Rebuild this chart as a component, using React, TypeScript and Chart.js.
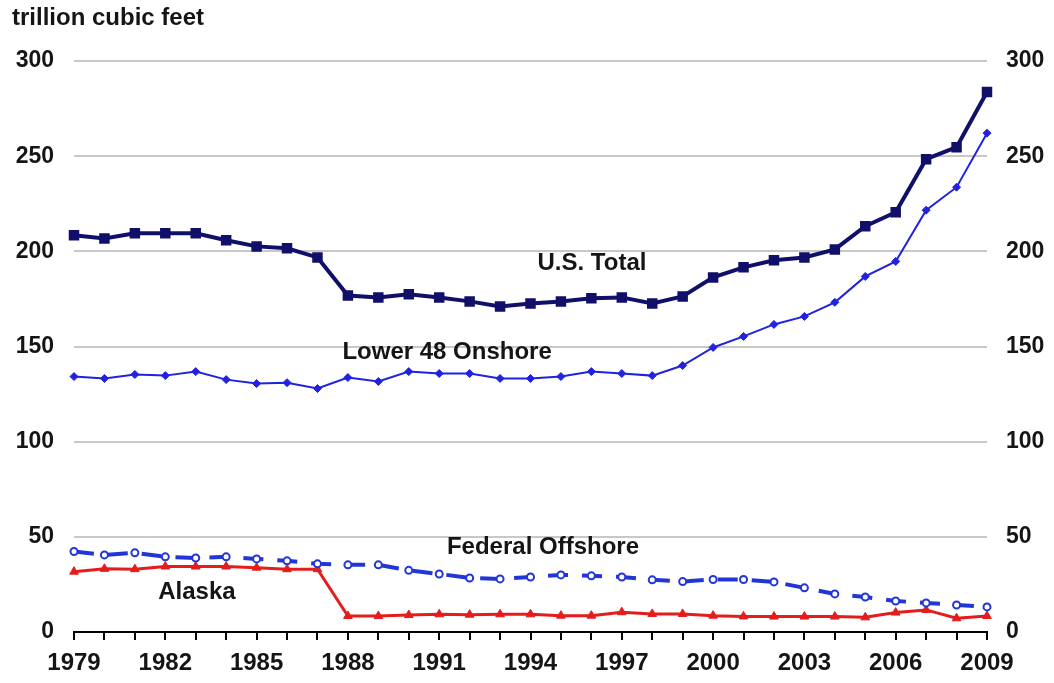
import React, { useEffect, useRef } from "react";
import { Chart, registerables } from "chart.js";

Chart.register(...registerables);

const years: number[] = [
  1979, 1980, 1981, 1982, 1983, 1984, 1985, 1986, 1987, 1988, 1989, 1990, 1991, 1992, 1993,
  1994, 1995, 1996, 1997, 1998, 1999, 2000, 2001, 2002, 2003, 2004, 2005, 2006, 2007, 2008, 2009,
];

const usTotal: number[] = [
  208.4, 206.8, 209.5, 209.5, 209.5, 205.8, 202.6, 201.6, 196.8, 176.8, 175.8, 177.4, 175.8,
  173.7, 171.0, 172.6, 173.7, 175.3, 175.8, 172.6, 176.3, 186.3, 191.6, 195.3, 196.8, 201.0,
  213.2, 220.5, 248.4, 254.7, 283.7,
];

const lower48Onshore: number[] = [
  134.2, 133.2, 135.3, 134.7, 136.8, 132.6, 130.5, 131.0, 127.9, 133.7, 131.6, 136.8, 135.8,
  135.8, 133.2, 133.2, 134.2, 136.8, 135.8, 134.7, 140.0, 149.5, 155.3, 161.6, 165.8, 173.2,
  186.8, 194.7, 221.6, 233.7, 262.1,
];

const federalOffshore: number[] = [
  42.3, 40.5, 41.6, 39.5, 38.9, 39.5, 38.4, 37.4, 35.8, 35.3, 35.3, 32.4, 30.5, 28.4, 27.9,
  28.9, 30.0, 29.5, 28.9, 27.4, 26.5, 27.6, 27.6, 26.3, 23.2, 20.0, 18.4, 16.3, 15.3, 14.2,
  13.2,
];

const alaska: number[] = [
  31.7, 33.2, 33.0, 34.4, 34.4, 34.4, 33.8, 33.0, 33.0, 8.4, 8.4, 8.9, 9.3, 9.1, 9.3, 9.3, 8.6,
  8.6, 10.4, 9.5, 9.5, 8.6, 8.2, 8.1, 8.1, 8.1, 7.7, 10.2, 11.6, 7.2, 8.4,
];

const yTicks: number[] = [0, 50, 100, 150, 200, 250, 300];
const xLabelStep = 3;

const unitLabel = "trillion cubic feet";
const seriesLabels = [
  { text: "U.S. Total", x: 1996.02, y: 193.9 },
  { text: "Lower 48 Onshore", x: 1991.26, y: 147.1 },
  { text: "Federal Offshore", x: 1994.41, y: 44.7 },
  { text: "Alaska", x: 1983.04, y: 21.0 },
];

const FONT = "'Liberation Sans', Arial, sans-serif";
const TEXT = "#151515";

export default function App() {
  const ref = useRef<HTMLCanvasElement | null>(null);

  useEffect(() => {
    document.body.style.margin = "0";
    const canvas = ref.current;
    if (!canvas) return;

    const toPts = (arr: number[]) => arr.map((v, i) => ({ x: years[i], y: v }));

    const labelPlugin = {
      id: "seriesLabels",
      afterDatasetsDraw(chart: any) {
        const { ctx, scales } = chart;
        ctx.save();
        ctx.fillStyle = TEXT;
        ctx.font = `bold 24px ${FONT}`;
        ctx.textAlign = "center";
        ctx.textBaseline = "middle";
        for (const l of seriesLabels) {
          ctx.fillText(l.text, scales.x.getPixelForValue(l.x), scales.y.getPixelForValue(l.y));
        }
        ctx.restore();
      },
    };

    const chart = new Chart(canvas, {
      type: "line",
      data: {
        datasets: [
          {
            label: "U.S. Total",
            data: toPts(usTotal),
            borderColor: "#10106a",
            backgroundColor: "#10106a",
            borderWidth: 4,
            pointStyle: "rect",
            pointRadius: 6,
            pointBorderWidth: 2,
            clip: false,
            order: 1,
          } as any,
          {
            label: "Lower 48 Onshore",
            data: toPts(lower48Onshore),
            borderColor: "#2121e0",
            backgroundColor: "#2121e0",
            borderWidth: 2,
            pointStyle: "rectRot",
            pointRadius: 4,
            pointBorderWidth: 1,
            clip: false,
            order: 2,
          } as any,
          {
            label: "Federal Offshore",
            data: toPts(federalOffshore),
            borderColor: "#2236d8",
            backgroundColor: "#ffffff",
            pointBorderColor: "#2236d8",
            borderWidth: 4,
            borderDash: [20, 14],
            pointStyle: "circle",
            pointRadius: 3.5,
            pointBorderWidth: 2,
            clip: false,
            order: 3,
          } as any,
          {
            label: "Alaska",
            data: toPts(alaska),
            borderColor: "#e41c1c",
            backgroundColor: "#e41c1c",
            borderWidth: 3,
            pointStyle: "triangle",
            pointRadius: 5,
            pointBorderWidth: 1,
            clip: false,
            order: 4,
          } as any,
        ],
      },
      options: {
        animation: false,
        responsive: false,
        maintainAspectRatio: false,
        devicePixelRatio: 1,
        layout: { padding: { left: 12, right: 0, top: 0, bottom: 0 } },
        plugins: {
          legend: { display: false },
          tooltip: { enabled: false },
          title: {
            display: true,
            text: unitLabel,
            align: "start",
            color: TEXT,
            font: { family: FONT, size: 24, weight: "bold" },
            padding: { top: 4, bottom: 28.2 },
          },
        },
        scales: {
          x: {
            type: "linear",
            min: years[0],
            max: years[years.length - 1],
            afterFit: (axis: any) => {
              axis.height = 51;
            },
            afterBuildTicks: (axis: any) => {
              axis.ticks = years.map((v) => ({ value: v }));
            },
            ticks: {
              autoSkip: false,
              maxRotation: 0,
              padding: 9,
              color: TEXT,
              font: { family: FONT, size: 24, weight: "bold" },
              callback: (v: any) => ((Number(v) - years[0]) % xLabelStep === 0 ? String(v) : ""),
            },
            grid: {
              drawOnChartArea: false,
              drawTicks: true,
              tickLength: 8,
              color: "#000000",
              lineWidth: 2,
            },
            border: { display: true, color: "#000000", width: 2 },
          },
          y: {
            position: "left",
            min: 0,
            max: 300,
            afterFit: (axis: any) => {
              axis.width = 62;
            },
            afterBuildTicks: (axis: any) => {
              axis.ticks = yTicks.map((v) => ({ value: v }));
            },
            ticks: {
              padding: 20,
              color: TEXT,
              font: { family: FONT, size: 23, weight: "bold" },
            },
            grid: {
              drawTicks: false,
              color: (c: any) => (c.tick && c.tick.value === 0 ? "rgba(0,0,0,0)" : "#c8c8c8"),
              lineWidth: 2,
            },
            border: { display: false },
          },
          y2: {
            position: "right",
            min: 0,
            max: 300,
            afterFit: (axis: any) => {
              axis.width = 67;
            },
            afterBuildTicks: (axis: any) => {
              axis.ticks = yTicks.map((v) => ({ value: v }));
            },
            ticks: {
              padding: 19,
              color: TEXT,
              font: { family: FONT, size: 23, weight: "bold" },
            },
            grid: { display: false, drawTicks: false },
            border: { display: false },
          },
        },
      } as any,
      plugins: [labelPlugin],
    });

    return () => chart.destroy();
  }, []);

  return (
    <div style={{ width: 1054, height: 683, background: "#ffffff" }}>
      <canvas ref={ref} width={1054} height={683} style={{ display: "block" }} />
    </div>
  );
}
